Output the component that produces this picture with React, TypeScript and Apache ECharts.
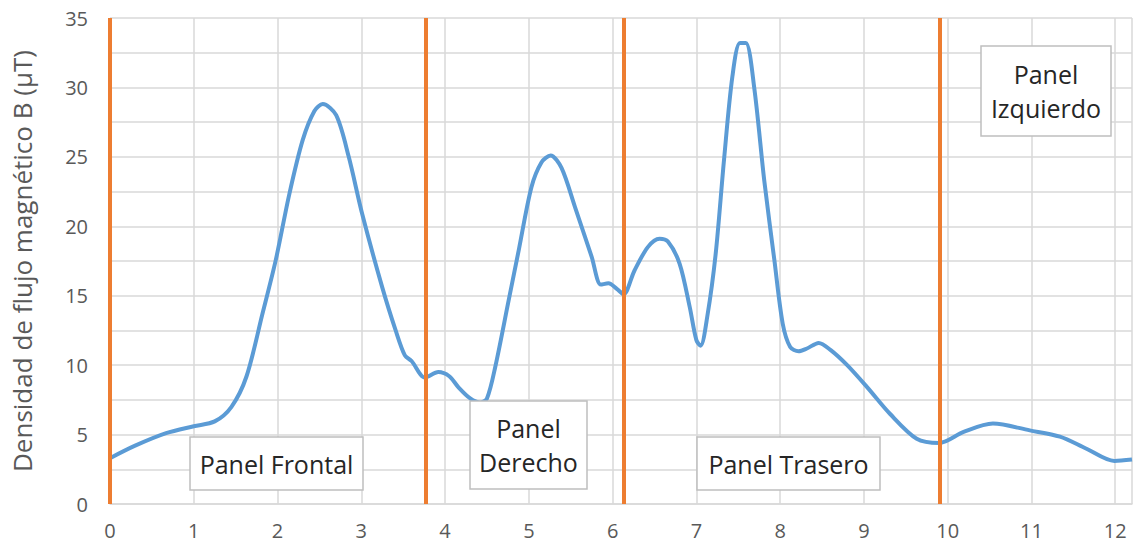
import React, { useEffect, useRef } from "react";
import * as echarts from "echarts";

const positions = [0, 0.3, 0.67, 1.0, 1.25, 1.45, 1.63, 1.82, 1.98, 2.14, 2.3, 2.44, 2.54, 2.7, 2.85, 3.01, 3.25, 3.41, 3.52, 3.6, 3.76, 3.92, 4.05, 4.16, 4.3, 4.42, 4.5, 4.6, 4.76, 4.88, 5.03, 5.15, 5.26, 5.39, 5.55, 5.75, 5.86, 5.95, 6.05, 6.13, 6.26, 6.42, 6.56, 6.66, 6.8, 6.92, 7.0, 7.05, 7.13, 7.23, 7.33, 7.43, 7.52, 7.59, 7.69, 7.81, 7.93, 8.03, 8.12, 8.22, 8.32, 8.46, 8.6, 8.8, 9.04, 9.31, 9.63, 9.9, 10.19, 10.54, 10.98, 11.34, 11.65, 11.99, 12.2];
const fluxDensity = [3.3, 4.2, 5.1, 5.6, 5.95, 7.0, 9.2, 13.7, 17.6, 22.3, 26.2, 28.3, 28.8, 28.0, 25.0, 20.9, 15.6, 12.5, 10.7, 10.3, 9.1, 9.5, 9.2, 8.4, 7.6, 7.3, 7.6, 9.9, 14.7, 18.3, 22.8, 24.6, 25.1, 24.2, 21.4, 17.8, 15.8, 15.9, 15.5, 15.1, 16.8, 18.5, 19.1, 18.9, 17.3, 14.2, 11.8, 11.4, 13.5, 18.0, 24.8, 30.8, 33.2, 33.2, 30.0, 23.3, 17.6, 13.0, 11.3, 11.0, 11.2, 11.6, 11.1, 10.0, 8.4, 6.5, 4.7, 4.4, 5.2, 5.8, 5.3, 4.85, 4.0, 3.1, 3.2];
const panelBoundaries = [0, 3.77, 6.13, 9.9];
const panelLabels = ["Panel Frontal", "Panel\nDerecho", "Panel Trasero", "Panel\nIzquierdo"];
const yTitle = "Densidad de flujo magnético B (µT)";

const FONT = "'Open Sans', sans-serif";

export default function App() {
  const ref = useRef<HTMLDivElement>(null);
  useEffect(() => {
    if (!ref.current) return;
    const chart = echarts.init(ref.current, null, { renderer: "svg" });
    const boxes = [
      { x: 190, y: 437, w: 173, h: 53 },
      { x: 470, y: 401, w: 117, h: 88 },
      { x: 697, y: 437, w: 183, h: 53 },
      { x: 981, y: 46, w: 130, h: 90 },
    ];
    const graphic: any[] = [];
    boxes.forEach((b, i) => {
      graphic.push({
        type: "rect",
        shape: { x: b.x, y: b.y, width: b.w, height: b.h },
        style: { fill: "#ffffff", stroke: "#bfbfbf", lineWidth: 1.5 },
        z: 100,
      });
      graphic.push({
        type: "text",
        x: b.x + b.w / 2,
        y: b.y + b.h / 2,
        style: {
          text: panelLabels[i],
          fill: "#262626",
          font: `25px ${FONT}`,
          align: "center",
          verticalAlign: "middle",
          lineHeight: 34,
        },
        z: 101,
      });
    });
    chart.setOption({
      animation: false,
      grid: { left: 110, right: 0, top: 18, bottom: 44, containLabel: false },
      xAxis: {
        type: "value",
        min: 0,
        max: 12.2,
        interval: 1,
        axisLine: { show: true, lineStyle: { color: "#d9d9d9", width: 1.5 } },
        axisTick: { show: false },
        axisLabel: {
          color: "#595959",
          fontSize: 20,
          fontFamily: FONT,
          margin: 16,
          formatter: (v: number) => (Number.isInteger(v) ? String(v) : ""),
        },
        splitLine: { show: true, lineStyle: { color: "#d9d9d9", width: 1.5 } },
      },
      yAxis: {
        type: "value",
        min: 0,
        max: 35,
        interval: 2.5,
        name: yTitle,
        nameLocation: "middle",
        nameGap: 75,
        nameTextStyle: { color: "#595959", fontSize: 26, fontFamily: FONT },
        axisLine: { show: false },
        axisTick: { show: false },
        axisLabel: {
          color: "#595959",
          fontSize: 20,
          fontFamily: FONT,
          margin: 22,
          formatter: (v: number) => (v % 5 === 0 ? String(v) : ""),
        },
        splitLine: { show: true, lineStyle: { color: "#d9d9d9", width: 1.5 } },
      },
      series: [
        {
          type: "line",
          data: positions.map((x, i) => [x, fluxDensity[i]]),
          smooth: 0.3,
          showSymbol: false,
          symbol: "none",
          lineStyle: { color: "#5B9BD5", width: 4 },
          z: 3,
          markLine: {
            silent: true,
            symbol: ["none", "none"],
            label: { show: false },
            lineStyle: { color: "#ED7D31", width: 4, type: "solid" },
            data: panelBoundaries.map((x) => ({ xAxis: x })),
          },
        },
      ],
      graphic,
    });
    return () => chart.dispose();
  }, []);
  return (
    <div
      ref={ref}
      style={{ position: "fixed", left: 0, top: 0, width: 1135, height: 548, background: "#fff" }}
    />
  );
}
